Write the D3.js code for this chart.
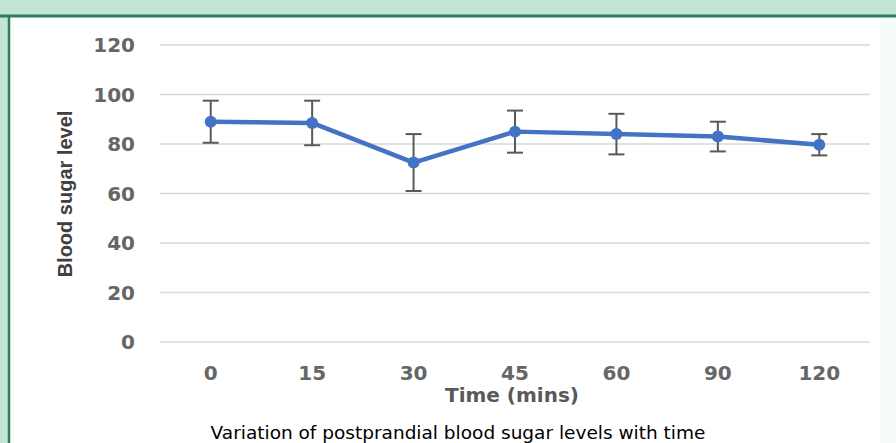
<!DOCTYPE html>
<html>
<head>
<meta charset="utf-8">
<script src="https://cdn.jsdelivr.net/npm/d3@7"></script>
<style>
  html, body { margin: 0; padding: 0; background: #fff; }
  svg { display: block; }
</style>
</head>
<body>
<div id="chart"></div>
<script>
// time points (mins), mean blood sugar and error (+/-)
const times = ["0", "15", "30", "45", "60", "90", "120"];
const means = [89, 88.5, 72.5, 85, 84, 83, 79.7];
const errors = [8.5, 9, 11.5, 8.5, 8.2, 6, 4.3];
const yTicks = [0, 20, 40, 60, 80, 100, 120];

const width = 896;
const height = 443;

const svg = d3.select("#chart")
  .append("svg")
  .attr("width", width)
  .attr("height", height);

// green frame around the figure
svg.append("rect")
  .attr("width", width)
  .attr("height", height)
  .attr("fill", "#c4e5d6");
svg.append("rect")
  .attr("x", 10)
  .attr("y", 17)
  .attr("width", 870)
  .attr("height", height - 17)
  .attr("fill", "#fff");
svg.append("rect")
  .attr("x", 880)
  .attr("y", 17)
  .attr("width", 16)
  .attr("height", height - 17)
  .attr("fill", "#f5fbfb");
svg.append("line")
  .attr("x1", 0).attr("x2", width)
  .attr("y1", 16).attr("y2", 16)
  .attr("stroke", "#2f7d5b")
  .attr("stroke-width", 3);
svg.append("line")
  .attr("x1", 9).attr("x2", 9)
  .attr("y1", 15).attr("y2", height)
  .attr("stroke", "#2f7d5b")
  .attr("stroke-width", 2.5);

const x = d3.scaleBand()
  .domain(times)
  .range([160, 870]);
const cx = (d) => x(d) + x.bandwidth() / 2;

const y = d3.scaleLinear()
  .domain([0, 120])
  .range([342, 45]);

// gridlines
svg.append("g")
  .selectAll("line")
  .data(yTicks)
  .join("line")
  .attr("x1", 160)
  .attr("x2", 870)
  .attr("y1", (d) => y(d))
  .attr("y2", (d) => y(d))
  .attr("stroke", "#d9d9d9")
  .attr("stroke-width", 1.5);

const tickFont = "DejaVu Sans, Verdana, sans-serif";

// y tick labels
svg.append("g")
  .selectAll("text")
  .data(yTicks)
  .join("text")
  .attr("x", 135)
  .attr("y", (d) => y(d))
  .attr("dy", "0.36em")
  .attr("text-anchor", "end")
  .attr("fill", "#666")
  .style("font-family", tickFont)
  .style("font-weight", "bold")
  .style("font-size", "20px")
  .text((d) => d);

// x tick labels
svg.append("g")
  .selectAll("text")
  .data(times)
  .join("text")
  .attr("x", (d) => cx(d))
  .attr("y", 380)
  .attr("text-anchor", "middle")
  .attr("fill", "#666")
  .style("font-family", tickFont)
  .style("font-weight", "bold")
  .style("font-size", "20px")
  .text((d) => d);

// axis titles
svg.append("text")
  .attr("x", 512)
  .attr("y", 402)
  .attr("text-anchor", "middle")
  .attr("fill", "#595959")
  .style("font-family", tickFont)
  .style("font-weight", "bold")
  .style("font-size", "20px")
  .text("Time (mins)");

svg.append("text")
  .attr("transform", "translate(72,194) rotate(-90)")
  .attr("text-anchor", "middle")
  .attr("fill", "#404040")
  .style("font-family", "Liberation Sans, Arial, sans-serif")
  .style("font-weight", "bold")
  .style("font-size", "20px")
  .text("Blood sugar level");

// error bars
const err = svg.append("g")
  .attr("stroke", "#595959")
  .attr("stroke-width", 2)
  .selectAll("g")
  .data(times)
  .join("g");
err.append("line")
  .attr("x1", (d) => cx(d))
  .attr("x2", (d) => cx(d))
  .attr("y1", (d, i) => y(means[i] + errors[i]))
  .attr("y2", (d, i) => y(means[i] - errors[i]));
err.append("line")
  .attr("x1", (d) => cx(d) - 8)
  .attr("x2", (d) => cx(d) + 8)
  .attr("y1", (d, i) => y(means[i] + errors[i]))
  .attr("y2", (d, i) => y(means[i] + errors[i]));
err.append("line")
  .attr("x1", (d) => cx(d) - 8)
  .attr("x2", (d) => cx(d) + 8)
  .attr("y1", (d, i) => y(means[i] - errors[i]))
  .attr("y2", (d, i) => y(means[i] - errors[i]));

// mean line and markers
const line = d3.line()
  .x((d) => cx(d))
  .y((d, i) => y(means[i]));

svg.append("path")
  .datum(times)
  .attr("fill", "none")
  .attr("stroke", "#4472c4")
  .attr("stroke-width", 4.5)
  .attr("stroke-linejoin", "round")
  .attr("d", line);

svg.append("g")
  .selectAll("circle")
  .data(times)
  .join("circle")
  .attr("cx", (d) => cx(d))
  .attr("cy", (d, i) => y(means[i]))
  .attr("r", 6)
  .attr("fill", "#4472c4");

// caption
svg.append("text")
  .attr("x", 458)
  .attr("y", 439)
  .attr("text-anchor", "middle")
  .attr("fill", "#000")
  .style("font-family", tickFont)
  .style("font-size", "18.5px")
  .text("Variation of postprandial blood sugar levels with time");
</script>
</body>
</html>
